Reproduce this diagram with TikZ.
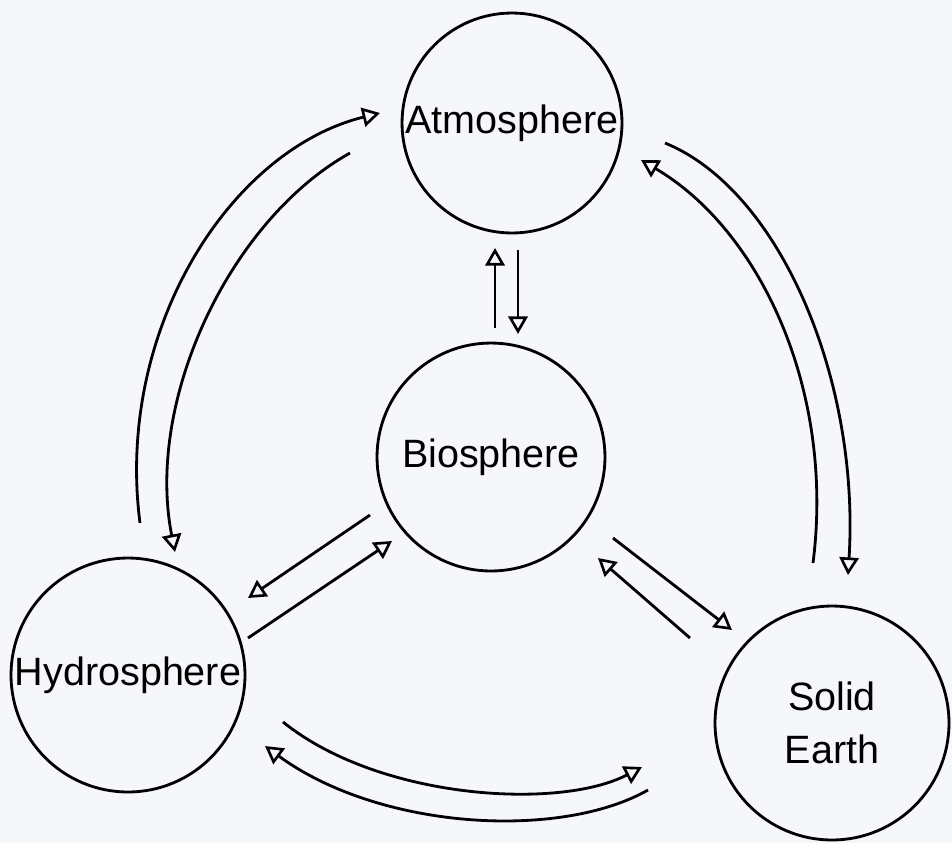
\documentclass[tikz,border=0pt]{standalone}
\usepackage{fontspec}
\setmainfont{Liberation Sans}
\usetikzlibrary{arrows.meta}
\definecolor{paper}{RGB}{246,247,251}
\tikzset{
  sphere/.style={circle, draw=black, line width=1.6pt, inner sep=0pt, align=center,
    font=\fontsize{22.5}{30}\selectfont},
  flow/.style={draw=black, line width=1.6pt,
    -{Triangle[open, length=10pt, width=11pt, line width=1.5pt]}},
  plain/.style={draw=black, line width=1.6pt}
}
\begin{document}
\begin{tikzpicture}[x=0.02cm, y=-0.02cm]
\fill[paper] (0,0) rectangle (952,843);
\useasboundingbox (0,0) rectangle (952,843);

\node[sphere, minimum size=4.4cm]  (atm) at (512,123) {Atmosphere};
\node[sphere, minimum size=4.56cm] (bio) at (491,457) {Biosphere};
\node[sphere, minimum size=4.68cm] (hyd) at (128,675) {Hydrosphere};
\node[sphere, minimum size=4.68cm] (sol) at (832,723) {Solid\\Earth};

% endpoints
\coordinate (l1s) at (140,523);  \coordinate (l1e) at (380,113);
\coordinate (l2s) at (350,153);  \coordinate (l2e) at (175,552);
\coordinate (r1s) at (665,143);  \coordinate (r1e) at (848,575);
\coordinate (r2s) at (813,563);  \coordinate (r2e) at (641,160);
\coordinate (b1s) at (283,722);  \coordinate (b1e) at (642,767);
\coordinate (b2s) at (648,790);  \coordinate (b2e) at (265,746);
\coordinate (v1s) at (495,328);  \coordinate (v1e) at (495,248);
\coordinate (v2s) at (518,250);  \coordinate (v2e) at (518,334);
\coordinate (h1s) at (370,515);  \coordinate (h1e) at (248,598);
\coordinate (h2s) at (248,638);  \coordinate (h2e) at (392,541);
\coordinate (s1s) at (613,538);  \coordinate (s1e) at (732,630);
\coordinate (s2s) at (690,638);  \coordinate (s2e) at (598,558);

% Hydrosphere <-> Atmosphere
\draw[flow] (l1s) .. controls (115,330) and (230,150) .. (l1e);
\draw[flow] (l2s) .. controls (230,220) and (145,400) .. (l2e);
% Atmosphere <-> Solid Earth
\draw[flow] (r1s) .. controls (780,190) and (860,380) .. (r1e);
\draw[flow] (r2s) .. controls (835,390) and (760,230) .. (r2e);
% Hydrosphere <-> Solid Earth
\draw[flow] (b1s) .. controls (380,800) and (560,810) .. (b1e);
\draw[flow] (b2s) .. controls (560,840) and (380,830) .. (b2e);
% Biosphere <-> Atmosphere
\draw[flow] (v1s) -- (v1e);
\draw[flow] (v2s) -- (v2e);
% Biosphere <-> Hydrosphere
\draw[flow] (h1s) -- (h1e);
\draw[flow] (h2s) -- (h2e);
% Biosphere <-> Solid Earth
\draw[flow] (s1s) -- (s1e);
\draw[flow] (s2s) -- (s2e);
\end{tikzpicture}
\end{document}
